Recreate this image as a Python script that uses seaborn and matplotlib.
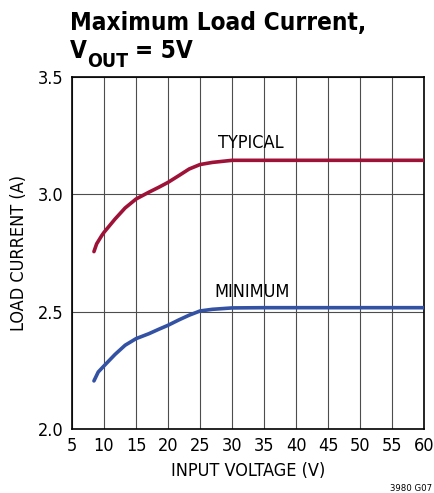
import numpy as np
import pandas as pd
import matplotlib
matplotlib.use('Agg')
import matplotlib.pyplot as plt
import seaborn as sns

# input voltage (V) and load current (A)
vin_typ = [8.43, 8.85, 9.64, 10.0, 11.73, 13.3, 15.0, 17.0, 18.55, 20.0, 21.7, 23.3, 25.0, 26.9, 30.0, 35.0, 40.0, 45.0, 50.0, 55.0, 60.0]
i_typ = [2.756, 2.789, 2.824, 2.838, 2.895, 2.942, 2.98, 3.009, 3.03, 3.051, 3.08, 3.108, 3.127, 3.136, 3.145, 3.145, 3.145, 3.145, 3.145, 3.145, 3.145]
vin_min = [8.43, 9.1, 10.0, 11.73, 13.3, 15.0, 17.0, 18.55, 20.0, 21.7, 23.3, 25.0, 26.9, 30.0, 35.0, 40.0, 45.0, 50.0, 55.0, 60.0]
i_min = [2.205, 2.243, 2.269, 2.318, 2.357, 2.385, 2.406, 2.425, 2.442, 2.465, 2.485, 2.503, 2.51, 2.516, 2.517, 2.517, 2.517, 2.517, 2.517, 2.517]
x_ticks = [5, 10, 15, 20, 25, 30, 35, 40, 45, 50, 55, 60]
y_ticks = [2.0, 2.5, 3.0, 3.5]

sns.set_style('white')
plt.rcParams['font.family'] = ['Liberation Sans Narrow', 'DejaVu Sans']
plt.rcParams['font.stretch'] = 'condensed'
plt.rcParams['text.color'] = 'black'
plt.rcParams['axes.labelcolor'] = 'black'
plt.rcParams['xtick.color'] = 'black'
plt.rcParams['ytick.color'] = 'black'

df = pd.concat([
    pd.DataFrame({'vin': vin_typ, 'iload': i_typ, 'curve': 'TYPICAL'}),
    pd.DataFrame({'vin': vin_min, 'iload': i_min, 'curve': 'MINIMUM'}),
])

fig = plt.figure(figsize=(4.35, 4.93), dpi=100)
ax = fig.add_axes([0.1655, 0.1298, 0.8095, 0.714])

sns.lineplot(data=df, x='vin', y='iload', hue='curve',
             palette={'TYPICAL': '#9E1238', 'MINIMUM': '#3452A4'},
             linewidth=2.6, legend=False, ax=ax, zorder=3)

ax.set_xlim(5, 60)
ax.set_ylim(2.0, 3.5)
ax.set_xticks(x_ticks)
ax.set_yticks(y_ticks)
ax.set_yticklabels(['%.1f' % v for v in y_ticks])
ax.grid(True, color='#4d4d4d', linewidth=0.8)
for s in ax.spines.values():
    s.set_color('black')
    s.set_linewidth(1.2)
ax.tick_params(axis='both', labelsize=13, length=0, pad=6)

ax.set_xlabel('INPUT VOLTAGE (V)', fontsize=13, labelpad=5)
ax.set_ylabel('LOAD CURRENT (A)', fontsize=13, labelpad=7)

ax.text(33.0, 3.22, 'TYPICAL', fontsize=13, ha='center', va='center')
ax.text(33.2, 2.584, 'MINIMUM', fontsize=13, ha='center', va='center')

# title, with the OUT subscript placed by hand
fig.text(0.161, 0.939, 'Maximum Load Current,', fontsize=17.5, fontweight='bold',
         ha='left', va='baseline')
renderer = fig.canvas.get_renderer()
t_v = fig.text(0.161, 0.882, 'V', fontsize=17.5, fontweight='bold', ha='left', va='baseline')
x1 = fig.transFigure.inverted().transform((t_v.get_window_extent(renderer).x1, 0))[0]
t_sub = fig.text(x1 + 0.001, 0.865, 'OUT', fontsize=14, fontweight='bold', ha='left', va='baseline')
x2 = fig.transFigure.inverted().transform((t_sub.get_window_extent(renderer).x1, 0))[0]
fig.text(x2 + 0.014, 0.882, '= 5V', fontsize=17.5, fontweight='bold', ha='left', va='baseline')
fig.text(0.993, 0.01, '3980 G07', fontsize=6.8, ha='right', va='center')

fig.savefig('out.png', dpi=100)
